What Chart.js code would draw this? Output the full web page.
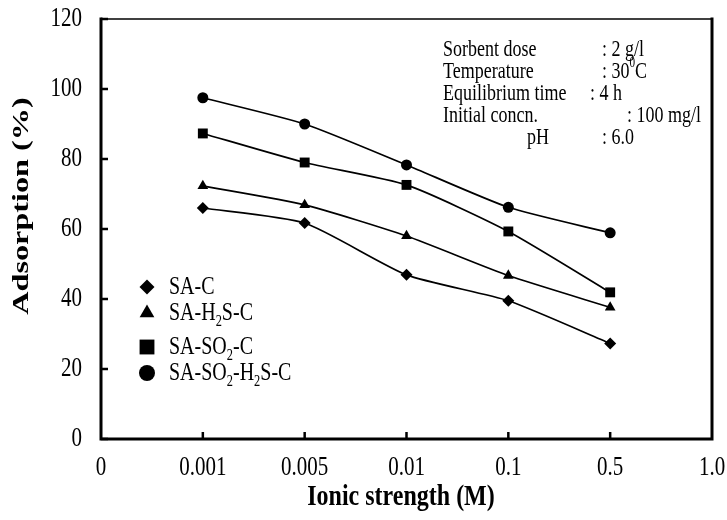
<!DOCTYPE html>
<html>
<head>
  <title>Adsorption vs ionic strength</title>
  <script src="https://cdn.jsdelivr.net/npm/chart.js"></script>
  <style>
    html, body { margin: 0; padding: 0; background: #fff; }
    #wrap { width: 727px; height: 520px; }
  </style>
</head>
<body>
  <div id="wrap">
    <canvas id="ionChart" width="727" height="520"></canvas>
  </div>

  <script>
    // ionic strength categories (evenly spaced on the axis)
    const xLabels = ['0', '0.001', '0.005', '0.01', '0.1', '0.5', '1.0'];
    const yTicks = [0, 20, 40, 60, 80, 100, 120];

    // adsorption (%) for each sorbent
    const saC       = [null, 66.0, 61.7, 46.9, 39.5, 27.3, null];
    const saH2SC    = [null, 72.3, 66.9, 58.0, 46.7, 37.6, null];
    const saSO2C    = [null, 87.3, 79.0, 72.6, 59.3, 41.9, null];
    const saSO2H2SC = [null, 97.5, 90.0, 78.3, 66.2, 58.9, null];

    // legend labels, pieces marked 'sub' are drawn as subscripts
    const legendItems = [
      { style: 'rectRot',  r: 7.5,  parts: [['SA-C']] },
      { style: 'triangle', r: 8.5,  parts: [['SA-H'], ['2', 'sub'], ['S-C']] },
      { style: 'rect',     r: 10.5, parts: [['SA-SO'], ['2', 'sub'], ['-C']] },
      { style: 'circle',   r: 8,    parts: [['SA-SO'], ['2', 'sub'], ['-H'], ['2', 'sub'], ['S-C']] }
    ];

    // experimental conditions box
    const conditions = [
      { label: 'Sorbent dose',      colon: 602, value: [[': 2 g/l']] },
      { label: 'Temperature',       colon: 602, value: [[': 30'], ['0', 'sup'], ['C']] },
      { label: 'Equilibrium time',  colon: 590, value: [[': 4 h']] },
      { label: 'Initial concn.',    colon: 627, value: [[': 100 mg/l']] },
      { label: 'pH',                colon: 602, value: [[': 6.0']], indent: 84 }
    ];

    const serif = '"Liberation Serif", "Times New Roman", serif';
    const SY = 1.3; // text in this figure is drawn a little taller than wide

    // draws text pieces (normal / sub / sup) starting at local x = 0
    function drawParts(ctx, parts, size) {
      let x = 0;
      parts.forEach(([txt, kind]) => {
        if (kind === 'sub' || kind === 'sup') {
          ctx.font = (size * 0.62) + 'px ' + serif;
          const dy = kind === 'sub' ? size * 0.32 : -size * 0.36;
          ctx.fillText(txt, x, dy);
        } else {
          ctx.font = size + 'px ' + serif;
          ctx.fillText(txt, x, 0);
        }
        x += ctx.measureText(txt).width;
      });
    }

    function tallText(ctx, txt, x, y, font, align, sy) {
      ctx.save();
      ctx.translate(x, y);
      ctx.scale(1, sy);
      ctx.font = font;
      ctx.textAlign = align;
      ctx.fillText(txt, 0, 0);
      ctx.restore();
    }

    const framePlugin = {
      id: 'frame',
      afterDraw(chart) {
        const { ctx, chartArea: a, scales } = chart;
        ctx.save();
        ctx.strokeStyle = '#000';
        ctx.fillStyle = '#000';
        ctx.lineCap = 'square';

        // top edge is thinner than the other three
        ctx.lineWidth = 1.5;
        ctx.beginPath();
        ctx.moveTo(a.left, a.top);
        ctx.lineTo(a.right, a.top);
        ctx.stroke();

        ctx.lineWidth = 3;
        ctx.beginPath();
        ctx.moveTo(a.left, a.top);
        ctx.lineTo(a.left, a.bottom);
        ctx.lineTo(a.right, a.bottom);
        ctx.lineTo(a.right, a.top);
        ctx.stroke();

        // inward tick marks + tick labels
        ctx.lineWidth = 2.5;
        ctx.lineCap = 'butt';
        ctx.textBaseline = 'middle';
        yTicks.forEach(v => {
          const y = scales.y.getPixelForValue(v);
          ctx.beginPath();
          ctx.moveTo(a.left, y);
          ctx.lineTo(a.left + 7, y);
          ctx.stroke();
          tallText(ctx, String(v), 82, y, '21px ' + serif, 'right', SY);
        });
        xLabels.forEach((l, i) => {
          const x = scales.x.getPixelForValue(i);
          if (i > 0 && i < xLabels.length - 1) {
            ctx.beginPath();
            ctx.moveTo(x, a.bottom);
            ctx.lineTo(x, a.bottom - 7);
            ctx.stroke();
          }
          tallText(ctx, l, x, 468, '21px ' + serif, 'center', SY);
        });

        // axis titles
        tallText(ctx, 'Ionic strength (M)', 401, 498, 'bold 24px ' + serif, 'center', 1.2);
        ctx.save();
        ctx.translate(22, 206);
        ctx.rotate(-Math.PI / 2);
        ctx.scale(1.4, 1);
        ctx.font = 'bold 23px ' + serif;
        ctx.textAlign = 'center';
        ctx.fillText('Adsorption (%)', 0, 0);
        ctx.restore();

        // legend inside the plot
        ctx.textAlign = 'left';
        const legY = [287, 313, 347, 373];
        legendItems.forEach((item, i) => {
          Chart.helpers.drawPoint(ctx, {
            pointStyle: item.style, radius: item.r, borderWidth: 0, rotation: 0
          }, 147, legY[i]);
          ctx.save();
          ctx.translate(169, legY[i]);
          ctx.scale(1, SY);
          drawParts(ctx, item.parts, 20);
          ctx.restore();
        });

        // conditions text
        conditions.forEach((c, i) => {
          const y = 50 + i * 22;
          tallText(ctx, c.label, 443 + (c.indent || 0), y, '18px ' + serif, 'left', SY);
          ctx.save();
          ctx.translate(c.colon, y);
          ctx.scale(1, SY);
          drawParts(ctx, c.value, 18);
          ctx.restore();
        });

        ctx.restore();
      }
    };

    const pointStyles = ['rectRot', 'triangle', 'rect', 'circle'];
    const pointSizes = [6, 6.2, 7, 5.5];
    const seriesData = [saC, saH2SC, saSO2C, saSO2H2SC];
    const seriesNames = ['SA-C', 'SA-H2S-C', 'SA-SO2-C', 'SA-SO2-H2S-C'];

    const ctx = document.getElementById('ionChart').getContext('2d');
    const ionChart = new Chart(ctx, {
      type: 'line',
      data: {
        labels: xLabels,
        datasets: seriesData.map((d, i) => ({
          label: seriesNames[i],
          data: d,
          borderColor: '#000',
          backgroundColor: '#000',
          borderWidth: 1.7,
          tension: 0.2,
          pointStyle: pointStyles[i],
          pointRadius: pointSizes[i],
          pointBorderWidth: 0,
          fill: false
        }))
      },
      options: {
        responsive: false,
        animation: false,
        devicePixelRatio: 1,
        layout: { padding: { top: 19, right: 15, left: 0, bottom: 0 } },
        plugins: {
          legend: { display: false },
          tooltip: { enabled: false }
        },
        scales: {
          x: {
            type: 'category',
            offset: false,
            grid: { display: false, drawTicks: false },
            border: { display: false },
            ticks: { display: false, autoSkip: false },
            afterFit(scale) { scale.height = 81; }
          },
          y: {
            min: 0,
            max: 120,
            grid: { display: false, drawTicks: false },
            border: { display: false },
            ticks: { display: false, stepSize: 20 },
            afterFit(scale) { scale.width = 101; }
          }
        }
      },
      plugins: [framePlugin]
    });
  </script>
</body>
</html>
